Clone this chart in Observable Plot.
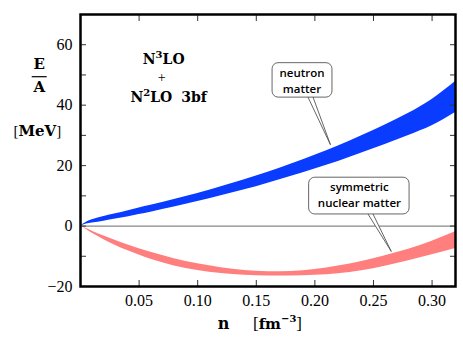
<!DOCTYPE html>
<html><head><meta charset="utf-8">
<script src="https://cdn.jsdelivr.net/npm/d3@7"></script>
<script src="https://cdn.jsdelivr.net/npm/@observablehq/plot@0.6"></script>
<style>body{margin:0;background:#fff}</style>
</head><body><div id="chart"></div>
<script>
// density n [fm^-3]
const density = [0, 0.005, 0.01, 0.02, 0.03, 0.04, 0.05, 0.06, 0.08, 0.10, 0.12, 0.14, 0.16, 0.18, 0.20, 0.22, 0.24, 0.26, 0.28, 0.30, 0.32];
// neutron matter band E/A [MeV]
const neutronLow  = [0, 0.7, 1.0, 1.6, 2.3, 3.0, 3.8, 4.6, 6.3, 8.1, 10.0, 12.0, 14.2, 16.5, 18.9, 21.4, 24.2, 27.0, 30.0, 33.2, 37.6];
const neutronHigh = [0, 1.3, 2.1, 3.2, 4.1, 5.0, 6.0, 6.9, 8.8, 10.8, 13.0, 15.3, 17.8, 20.5, 23.4, 26.5, 29.9, 33.4, 37.3, 41.9, 47.8];
// symmetric nuclear matter band E/A [MeV]
const snmHigh = [0, -0.8, -1.7, -3.3, -4.8, -6.2, -7.5, -8.7, -10.8, -12.5, -13.8, -14.7, -15.1, -15.0, -14.4, -13.2, -11.7, -9.8, -7.7, -5.0, -1.9];
const snmLow  = [0, -1.1, -2.4, -4.5, -6.4, -8.1, -9.6, -11.0, -13.2, -14.7, -15.7, -16.3, -16.5, -16.5, -16.3, -15.8, -14.8, -13.3, -11.5, -9.5, -7.4];

const xTicks = [0.05, 0.10, 0.15, 0.20, 0.25, 0.30];
const yLabelTicks = [-20, 0, 20, 40, 60];
const yMinorTicks = [-10, 0, 10, 20, 30, 40, 50, 60];

// callout annotations (data coordinates)
const neutronBox = [{x1: 0.1639, x2: 0.2150, y1: 42.5, y2: 53.9}];
const neutronWedge = [{n: 0.1942, e: 42.6}, {n: 0.2133, e: 26.9}, {n: 0.1985, e: 42.6}];
const neutronText = [{n: 0.189, e: 50.6, t: "neutron"}, {n: 0.189, e: 45.4, t: "matter"}];
const snmBox = [{x1: 0.1951, x2: 0.2808, y1: 3.84, y2: 16.0}];
const snmWedge = [{n: 0.2453, e: 4.0}, {n: 0.2652, e: -8.4}, {n: 0.2496, e: 4.0}];
const snmText = [{n: 0.238, e: 12.67, t: "symmetric"}, {n: 0.238, e: 7.38, t: "nuclear matter"}];

const rows = density.map((n, i) => ({n, nl: neutronLow[i], nh: neutronHigh[i], sl: snmLow[i], sh: snmHigh[i]}));

const calloutFont = {fontFamily: "Open Sans", fontWeight: 600, fontSize: 11.5, fill: "black"};
const tickFont = {fontFamily: "Liberation Serif", fontSize: 16, fill: "black"};
const minusFmt = d => d < 0 ? `\u2212${-d}` : `${d}`;

const svg = Plot.plot({
  width: 463, height: 348,
  marginLeft: 80, marginRight: 8, marginTop: 14, marginBottom: 62,
  x: {domain: [0, 0.32]},
  y: {domain: [-20, 70]},
  style: {fontFamily: "Liberation Serif", fontSize: "16px", background: "white", color: "black"},
  marks: [
    Plot.ruleY([0], {stroke: "#888", strokeWidth: 1.3}),
    Plot.areaY(rows, {x: "n", y1: "nl", y2: "nh", fill: "#0a3cff", curve: "monotone-x"}),
    Plot.areaY(rows, {x: "n", y1: "sl", y2: "sh", fill: "#ff7f7f", curve: "monotone-x"}),
    Plot.line(neutronWedge, {x: "n", y: "e", stroke: "#555", strokeWidth: 0.9, fill: "white"}),
    Plot.rect(neutronBox, {x1: "x1", x2: "x2", y1: "y1", y2: "y2", fill: "white", stroke: "#555", strokeWidth: 0.9, rx: 6}),
    Plot.text(neutronText, {x: "n", y: "e", text: "t", ...calloutFont}),
    Plot.line(snmWedge, {x: "n", y: "e", stroke: "#555", strokeWidth: 0.9, fill: "white"}),
    Plot.rect(snmBox, {x1: "x1", x2: "x2", y1: "y1", y2: "y2", fill: "white", stroke: "#555", strokeWidth: 0.9, rx: 6}),
    Plot.text(snmText, {x: "n", y: "e", text: "t", ...calloutFont}),
    // tick labels
    Plot.axisX(xTicks, {anchor: "bottom", tickSize: 0, tickPadding: 8, tickFormat: d3.format(".2f"), label: null, ...tickFont}),
    Plot.axisY(yLabelTicks, {anchor: "left", tickSize: 0, tickPadding: 8, tickFormat: minusFmt, label: null, ...tickFont}),
    // inward ticks on all four sides
    Plot.axisX(xTicks, {anchor: "bottom", tickSize: 6, dy: -6, fill: "none", stroke: "#333", label: null}),
    Plot.axisX(xTicks, {anchor: "top", tickSize: 6, dy: 6, fill: "none", stroke: "#333", label: null}),
    Plot.axisY(yMinorTicks, {anchor: "left", tickSize: 6, dx: 6, fill: "none", stroke: "#333", label: null}),
    Plot.axisY(yMinorTicks, {anchor: "right", tickSize: 6, dx: -6, fill: "none", stroke: "#333", label: null}),
    Plot.frame({stroke: "black", strokeWidth: 2.5})
  ]
});

const s = d3.select(svg);
const serif = "DejaVu Serif";
function addText(x, y, parts, opts = {}) {
  const t = s.append("text").attr("x", x).attr("y", y)
    .attr("text-anchor", opts.anchor || "middle")
    .attr("font-family", serif).attr("font-size", opts.size || 15).attr("fill", "black");
  for (const p of parts) {
    const ts = t.append("tspan").text(p.t);
    if (p.w) ts.attr("font-weight", p.w);
    if (p.s) ts.attr("font-size", p.s);
    if (p.dy) ts.attr("dy", p.dy);
    if (p.dx) ts.attr("dx", p.dx);
    if (p.f) ts.attr("font-family", p.f);
  }
  return t;
}
// y label: E / A [MeV]
addText(39.2, 68.5, [{t: "E", w: "bold"}]);
s.append("line").attr("x1", 31.7).attr("x2", 46.7).attr("y1", 76.7).attr("y2", 76.7).attr("stroke", "black").attr("stroke-width", 1.2);
addText(39.2, 92, [{t: "A", w: "bold"}]);
addText(37.3, 136, [{t: "[", f: "Liberation Serif"}, {t: "MeV", w: "bold"}, {t: "]", f: "Liberation Serif"}]);
// x label: n [fm^-3]
addText(223.5, 329, [{t: "n", w: "bold"}], {size: 16});
addText(253, 329, [{t: "[", f: "Liberation Serif", s: 17}, {t: "fm", w: "bold"}, {t: "\u22123", s: 10, dy: -7, w: "bold"}, {t: "]", dy: 7, f: "Liberation Serif", s: 17}], {anchor: "start", size: 15});
// model label
addText(163.7, 64.3, [{t: "N", w: "bold"}, {t: "3", w: "bold", s: 10, dy: -6}, {t: "LO", w: "bold", dy: 6}], {size: 14});
addText(161.7, 82, [{t: "+", f: "Liberation Serif"}], {size: 14});
addText(168.7, 102.3, [{t: "N", w: "bold"}, {t: "2", w: "bold", s: 10, dy: -6}, {t: "LO", w: "bold", dy: 6}, {t: "3bf", w: "bold", dx: 9}], {size: 14});

document.getElementById("chart").appendChild(svg);
</script>
</body></html>
